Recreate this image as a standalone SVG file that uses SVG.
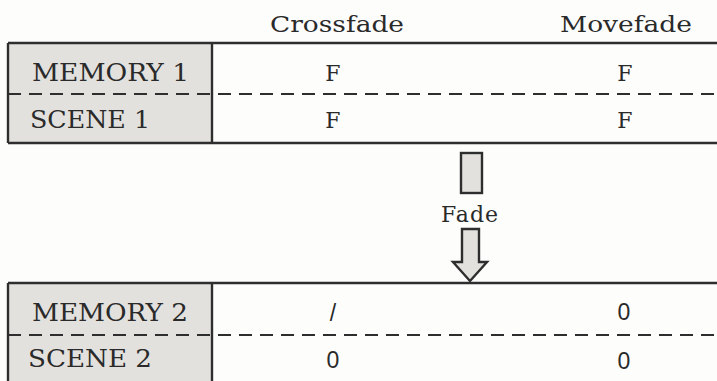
<svg xmlns="http://www.w3.org/2000/svg" width="717" height="381" viewBox="0 0 717 381">
<style>
.bg{fill:#fdfdfc}
.lab{fill:#e3e1dd;stroke:none}
.ln{stroke:#2e2e2e;stroke-width:2.4;fill:none}
.dash{stroke:#2e2e2e;stroke-width:2.2;stroke-dasharray:13 8;fill:none}
.t{font-family:"DejaVu Serif","Liberation Serif",serif;font-size:24px;fill:#2a2a2a}
.h{font-family:"DejaVu Serif","Liberation Serif",serif;font-size:22px;fill:#2a2a2a}
.v{font-family:"DejaVu Serif","Liberation Serif",serif;font-size:22px;fill:#2a2a2a;text-anchor:middle}
.n{font-family:"Liberation Sans","DejaVu Sans",sans-serif;font-size:23px;fill:#2a2a2a;text-anchor:middle}
.arrow{fill:#e3e1dd;stroke:#2e2e2e;stroke-width:2.4;stroke-linejoin:miter}
</style>
<rect class="bg" x="0" y="0" width="717" height="381"/>
<g id="headers">
<text class="h" x="270" y="32" textLength="134" lengthAdjust="spacingAndGlyphs">Crossfade</text>
<text class="h" x="560" y="32" textLength="132" lengthAdjust="spacingAndGlyphs">Movefade</text>
</g>
<g id="table1">
<rect class="lab" x="8" y="43" width="204" height="100"/>
<line class="ln" x1="8" y1="43" x2="717" y2="43"/>
<line class="ln" x1="8" y1="143" x2="717" y2="143"/>
<line class="ln" x1="8" y1="43" x2="8" y2="143"/>
<line class="ln" x1="212" y1="43" x2="212" y2="143"/>
<line class="dash" x1="8" y1="94" x2="717" y2="94"/>
<text class="t" x="32" y="81" textLength="157" lengthAdjust="spacingAndGlyphs">MEMORY 1</text>
<text class="t" x="30" y="128" textLength="120" lengthAdjust="spacingAndGlyphs">SCENE 1</text>
<text class="v" x="333" y="81">F</text>
<text class="v" x="333" y="128">F</text>
<text class="v" x="625" y="81">F</text>
<text class="v" x="625" y="128">F</text>
</g>
<g id="fade">
<rect class="arrow" x="461" y="153" width="21" height="40"/>
<text class="h" x="470" y="222" text-anchor="middle" letter-spacing="1">Fade</text>
<path class="arrow" d="M462,229 L479,229 L479,262 L487,262 L470,281 L453,262 L462,262 Z"/>
</g>
<g id="table2">
<rect class="lab" x="8" y="283" width="204" height="100"/>
<line class="ln" x1="8" y1="283" x2="717" y2="283"/>
<line class="ln" x1="8" y1="283" x2="8" y2="381"/>
<line class="ln" x1="212" y1="283" x2="212" y2="381"/>
<line class="dash" x1="8" y1="335" x2="717" y2="335"/>
<text class="t" x="32" y="321" textLength="156" lengthAdjust="spacingAndGlyphs">MEMORY 2</text>
<text class="t" x="28" y="367" textLength="124" lengthAdjust="spacingAndGlyphs">SCENE 2</text>
<text class="n" x="333" y="321">/</text>
<text class="n" x="333" y="368">0</text>
<text class="n" x="624" y="320">0</text>
<text class="n" x="624" y="369">0</text>
</g>
</svg>
